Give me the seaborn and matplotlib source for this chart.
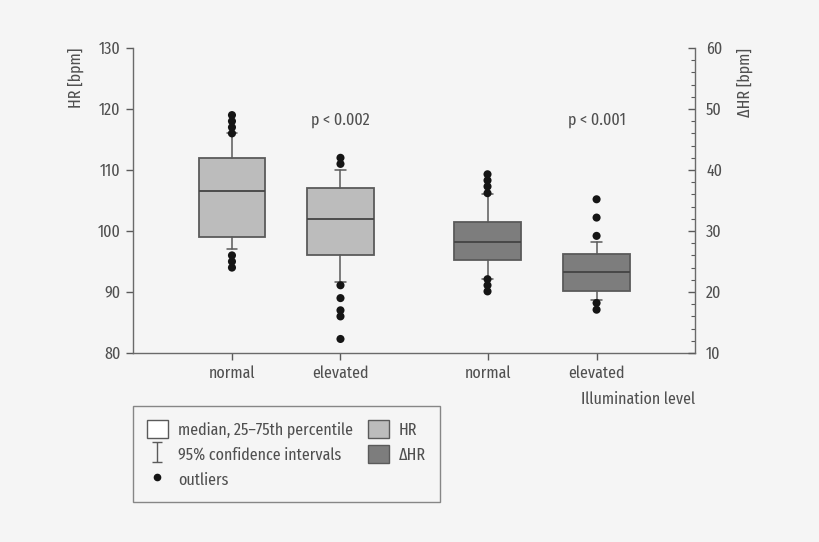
import numpy as np
import pandas as pd
import matplotlib
matplotlib.use('Agg')
import matplotlib.pyplot as plt
import seaborn as sns
from matplotlib.patches import Patch
from matplotlib.lines import Line2D
from matplotlib.path import Path

# data
levels = ['normal', 'elevated', 'normal', 'elevated']
measures = ['HR', 'HR', '\u0394HR', '\u0394HR']
q1 = [99.0, 96.0, 25.2, 20.1]
medians = [106.5, 102.0, 28.2, 23.2]
q3 = [112.0, 107.0, 31.4, 26.2]
ci_low = [97.0, 91.6, 22.2, 18.7]
ci_high = [116.0, 110.0, 36.1, 28.2]
outliers = [
    [119, 118, 117, 116, 96, 95, 94],
    [112, 111, 91.1, 89, 87, 86, 82.3],
    [39.3, 38.3, 37.3, 36.2, 22.1, 21.1, 20.1],
    [35.2, 32.2, 29.2, 18.2, 17.1],
]
p_labels = ['p < 0.002', 'p < 0.001']

# layout
positions = [0, 1, 2.355, 3.36]
box_fill = {'HR': '#bcbcbc', '\u0394HR': '#7d7d7d'}
edge = '#5a5a5a'
text_col = '#505050'
bg = '#f5f5f5'

sns.set_style('ticks')
plt.rcParams['font.family'] = ['Fira Sans Extra Condensed', 'DejaVu Sans']
plt.rcParams['font.weight'] = 'normal'
plt.rcParams['font.size'] = 12.5
plt.rcParams['text.color'] = text_col
plt.rcParams['axes.labelcolor'] = text_col
plt.rcParams['xtick.color'] = edge
plt.rcParams['ytick.color'] = edge
plt.rcParams['xtick.labelcolor'] = text_col
plt.rcParams['ytick.labelcolor'] = text_col

fig = plt.figure(figsize=(8.2, 5.42), dpi=100, facecolor=bg)
ax = fig.add_axes([133 / 820, 1 - 353 / 542, (695 - 133) / 820, (353 - 48) / 542])
ax.set_facecolor(bg)
ax2 = ax.twinx()

for i in range(len(levels)):
    target = ax if measures[i] == 'HR' else ax2
    stats = [{'med': medians[i], 'q1': q1[i], 'q3': q3[i],
              'whislo': ci_low[i], 'whishi': ci_high[i], 'fliers': []}]
    target.bxp(stats, positions=[positions[i]], widths=0.61, capwidths=0.1,
               patch_artist=True, showfliers=False, manage_ticks=False,
               boxprops=dict(facecolor=box_fill[measures[i]], edgecolor=edge, linewidth=1.3),
               medianprops=dict(color='#444444', linewidth=1.3),
               whiskerprops=dict(color=edge, linewidth=1.1),
               capprops=dict(color=edge, linewidth=1.1))
    df = pd.DataFrame({'x': positions[i], 'y': outliers[i]})
    sns.scatterplot(data=df, x='x', y='y', ax=target, color='#151515', s=34,
                    edgecolor='none', zorder=5)

ax.set_xlim(-0.912, 4.267)
ax.set_ylim(80, 130)
ax2.set_ylim(10, 60)
ax.set_yticks(np.arange(80, 131, 10))
ax2.set_yticks(np.arange(10, 61, 10))
ax2.set_yticks(np.arange(10, 61, 2), minor=True)
ax.set_xticks(positions)
ax.set_xticklabels(levels)

for a in (ax, ax2):
    for s in a.spines.values():
        s.set_color('#6a6a6a')
        s.set_linewidth(1.0)
    a.spines['top'].set_visible(False)
    a.set_xlabel('')
    a.set_ylabel('')
ax.spines['right'].set_visible(False)
ax2.spines['left'].set_visible(False)
ax2.spines['bottom'].set_visible(False)

ax.tick_params(axis='both', direction='out', length=5, width=1, pad=4)
ax2.tick_params(axis='y', which='major', direction='in', length=5, width=1, pad=8)
ax2.tick_params(axis='y', which='minor', direction='in', length=3, width=0.8)

ax.set_ylabel('HR [bpm]', loc='top', labelpad=10)
ax2.set_ylabel('\u0394HR [bpm]', loc='top', labelpad=10)
ax.set_xlabel('Illumination level', loc='right', labelpad=7)

ax.text(positions[1], 118.2, p_labels[0], ha='center', va='center')
ax.text(positions[3], 118.2, p_labels[1], ha='center', va='center')

# legend
I_path = Path([(-0.5, -1), (0.5, -1), (0, -1), (0, 1), (-0.5, 1), (0.5, 1)],
              [Path.MOVETO, Path.LINETO, Path.MOVETO, Path.LINETO, Path.MOVETO, Path.LINETO])
handles = [
    Patch(facecolor='white', edgecolor=edge, linewidth=1),
    Line2D([], [], linestyle='none', marker=I_path, markersize=14,
           markerfacecolor='none', markeredgecolor=edge, markeredgewidth=1),
    Line2D([], [], linestyle='none', marker='o', markersize=4.5, color='#151515'),
    Patch(facecolor=box_fill['HR'], edgecolor=edge, linewidth=1),
    Patch(facecolor=box_fill['\u0394HR'], edgecolor=edge, linewidth=1),
]
labels = ['median, 25\u201375th percentile', '95% confidence intervals', 'outliers',
          'HR', '\u0394HR']
leg = fig.legend(handles, labels, ncol=2, loc='upper left', mode='expand',
                 bbox_to_anchor=(133 / 820, 1 - 501 / 542, 307 / 820, 95 / 542),
                 frameon=True, fancybox=False, edgecolor='#6a6a6a', facecolor=bg,
                 handlelength=1.2, handleheight=1.2, handletextpad=0.6,
                 columnspacing=1.4, labelspacing=0.4, borderpad=0.8,
                 borderaxespad=0)
leg.get_frame().set_linewidth(1.0)

fig.savefig('out.png', dpi=100, facecolor=bg)
